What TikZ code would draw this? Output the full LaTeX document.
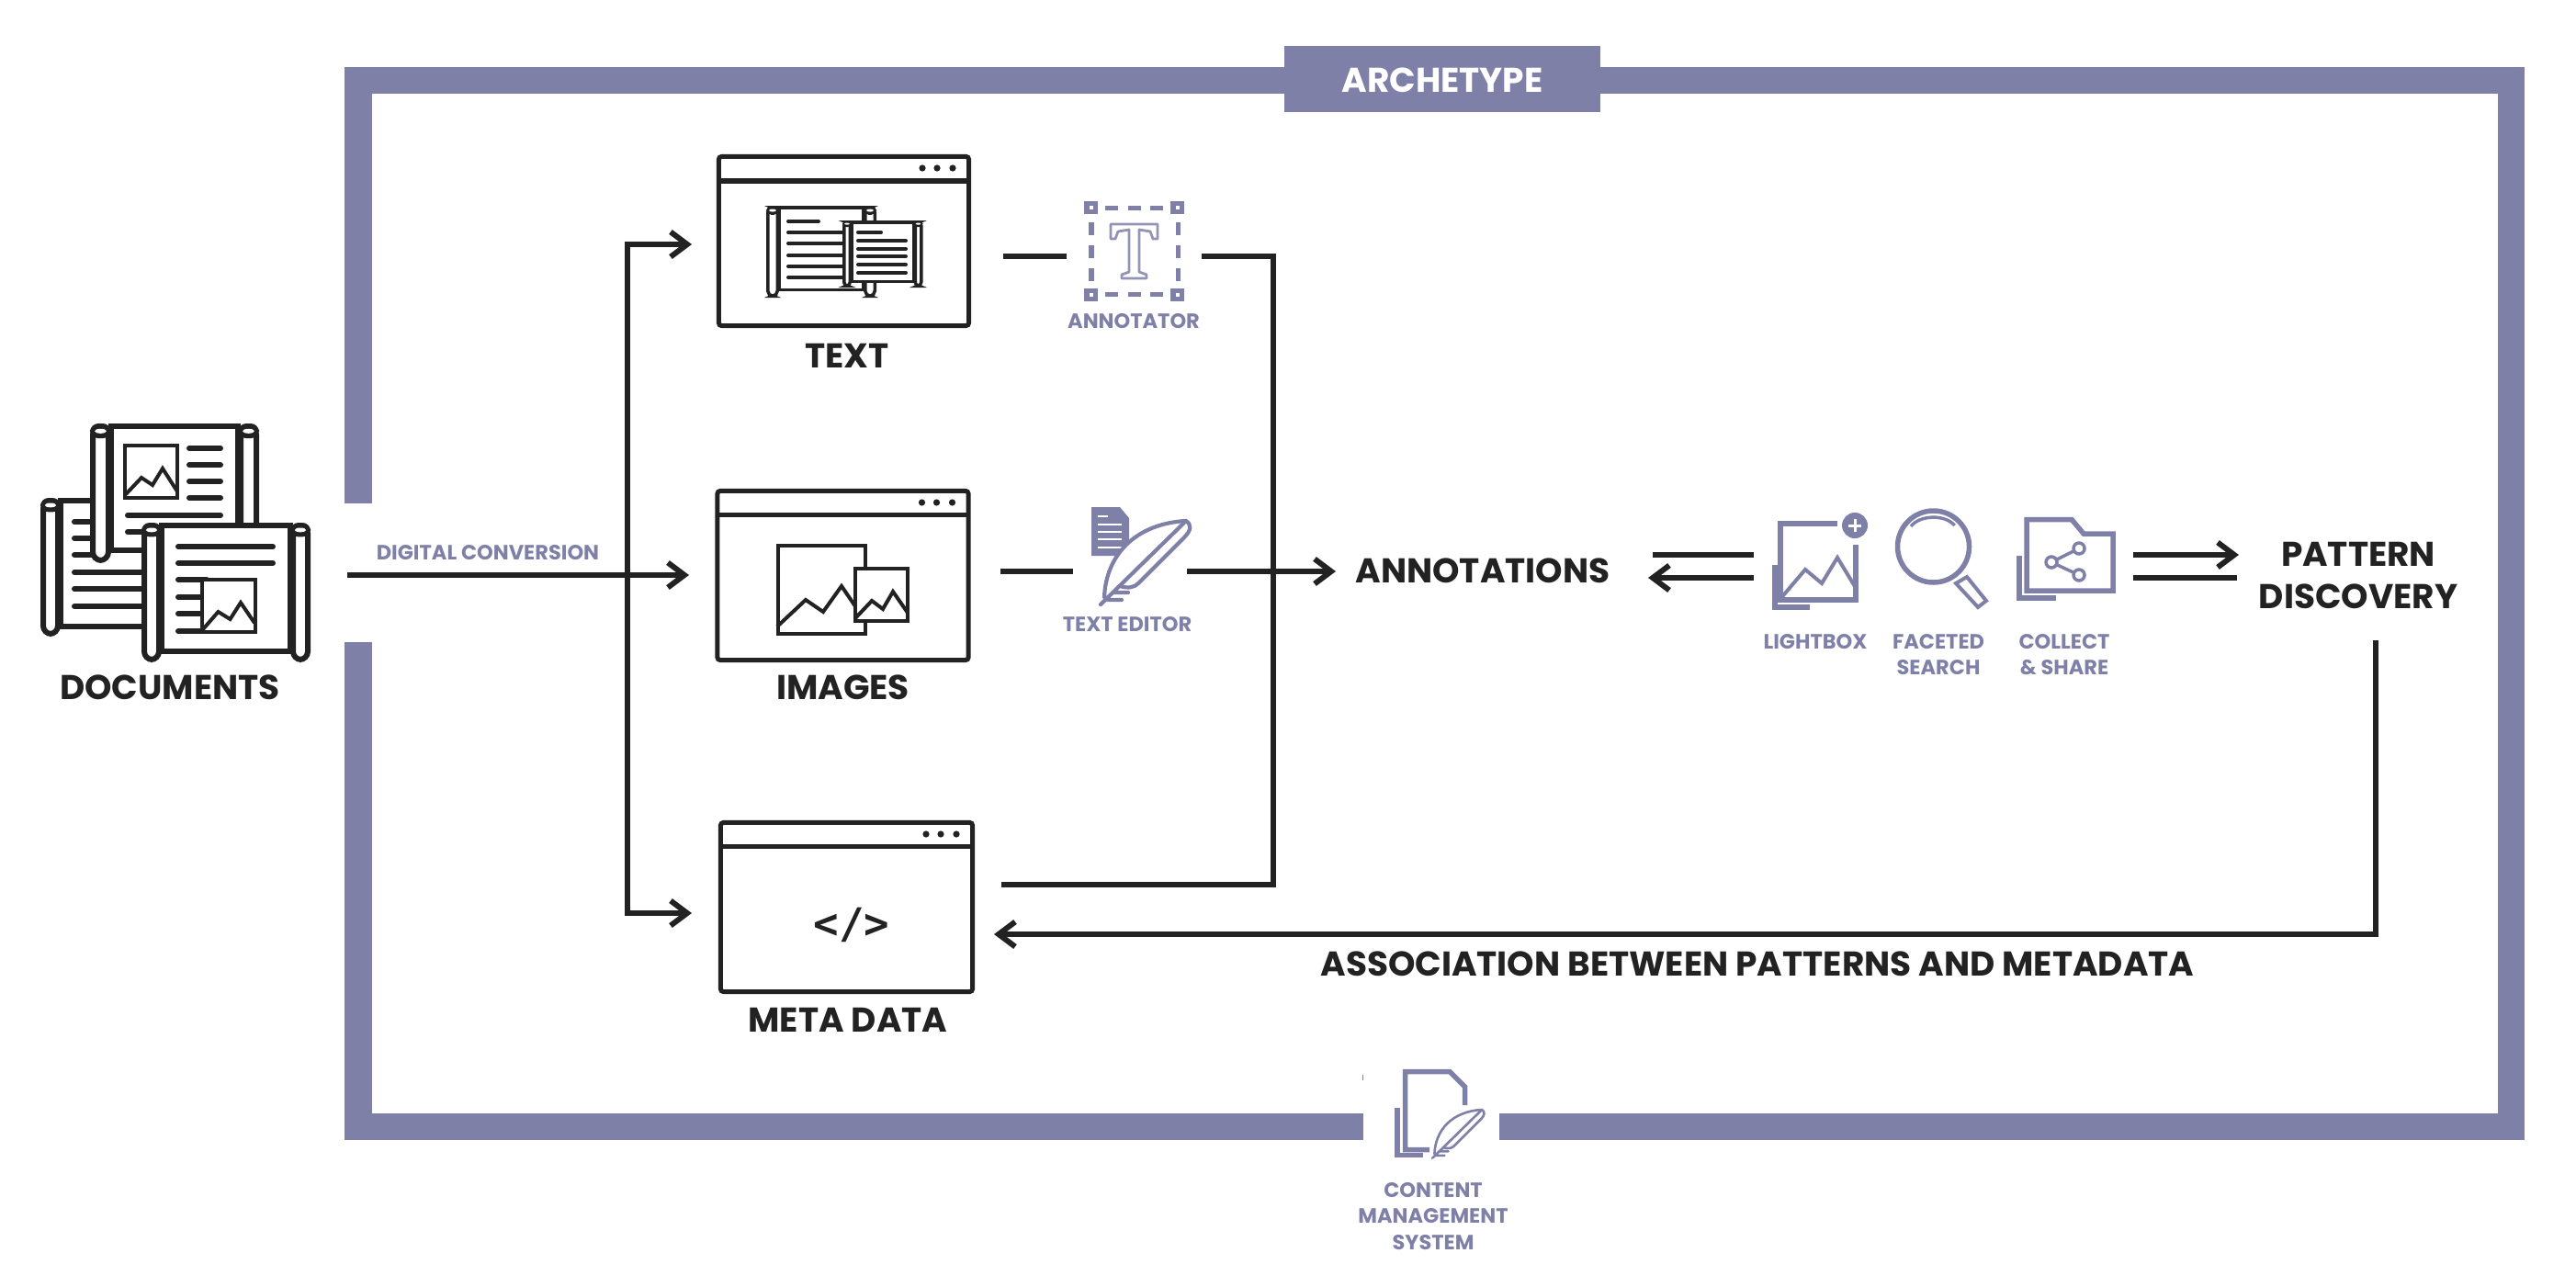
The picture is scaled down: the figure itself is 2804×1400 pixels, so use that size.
\documentclass[tikz,border=0pt]{standalone}
\usepackage{fontspec}
\setmainfont{Poppins}
\usetikzlibrary{arrows.meta}
\definecolor{inkblack}{HTML}{222222}
\definecolor{archpurple}{HTML}{7F80A8}
\tikzset{
  arrowline/.style={draw=inkblack,line width=0.06cm,>={Straight Barb[length=0.18cm,width=0.27cm]}},
  blacktxt/.style={text=inkblack,inner sep=0pt,align=center,yshift=-0.015cm,font=\fontsize{10.65}{13.1}\selectfont\bfseries},
  purpletxt/.style={text=archpurple,inner sep=0pt,align=center,yshift=-0.01cm,font=\fontsize{6.4}{8}\selectfont\bfseries},
  windowbox/.style={draw=inkblack,line width=0.05cm,rounded corners=0.03cm,fill=white},
  iconline/.style={draw=archpurple,line width=0.055cm},
  docline/.style={draw=inkblack,line width=0.04cm,line cap=round},
  picline/.style={draw=inkblack,line width=0.04cm,line join=miter}
}
\newcommand{\scrollicon}[7]{
  \filldraw[fill=white,draw=inkblack,line width=#7*0.01cm] (#1+#6,#2+#7/2) rectangle (#3-#6,#5-#7/2);
  \foreach \rx in {#1,#3-#6}{
    \filldraw[fill=white,draw=inkblack,line width=#7*0.01cm,rounded corners=#6*0.004cm] (\rx+#7/2,#2+#7/2) rectangle (\rx+#6-#7/2,#4-#7/2);
    \fill[inkblack,rounded corners=#6*0.004cm] (\rx,#2) rectangle (\rx+#6,#2+0.7*#6);
    \fill[white] (\rx+#6/2,#2+0.36*#6) ellipse ({0.28*#6} and {0.11*#6});
  }
}
\newcommand{\windowdots}[2]{
  \foreach \dx in {20,37,53}
    \fill[inkblack] (#1-\dx,#2+15) circle (3.6);
}
\newcommand{\feathericon}[1]{
  \filldraw[fill=white,draw=archpurple,line width=#1*0.01cm,line cap=round] (-89,83) .. controls (-87,36) and (-54,3) .. (0,0) .. controls (6,4) and (6,10) .. (-2,18) -- (-52,68) .. controls (-56,72) and (-62,74) .. (-72,71);
  \draw[draw=archpurple,line width=#1*0.01cm,line cap=round] (-2,2) -- (-93,91) (-80,78) -- (-63,78) (-85,86) -- (-70,86);
}
\begin{document}
\begin{tikzpicture}[x=0.01cm,y=-0.01cm]
\useasboundingbox (0,0) rectangle (2804,1400);

\draw[draw=archpurple,line width=0.29cm] (390,548) -- (390,87.5) -- (2733,87.5) -- (2733,1226.5) -- (1632,1226.5);
\draw[draw=archpurple,line width=0.29cm] (1484,1226.5) -- (390,1226.5) -- (390,699);
\node[fill=archpurple,minimum width=3.44cm,minimum height=0.72cm,inner sep=0pt] (archbox) at (1570,86) {};
\node[blacktxt,text=white] (archlabel) at (1570,86) {ARCHETYPE};

\scrollicon{44}{542}{200}{693}{685}{22}{6}
\foreach \ly in {568,586,604}
  \draw[docline,line width=0.06cm] (81,\ly) -- (110,\ly);
\foreach \ly in {623,641,660}
  \draw[docline,line width=0.06cm] (81,\ly) -- (160,\ly);
\scrollicon{98}{461}{282}{613}{602}{23}{6}
\foreach \ly in {488,506,524,542}
  \draw[docline,line width=0.06cm] (206,\ly) -- (240,\ly);
\draw[docline,line width=0.06cm] (139,561) -- (240,561);
\draw[docline,line width=0.06cm] (139,579) -- (165,579);
\draw[picline] (136,485) rectangle (193,542);
\draw[picline] (137,538) -- (154,520) -- (166,528) -- (177,510) -- (193,535);
\scrollicon{154}{569}{338}{721}{712}{22}{6}
\foreach \ly in {595,613}
  \draw[docline,line width=0.06cm] (194,\ly) -- (297,\ly);
\foreach \ly in {631,650,668,687}
  \draw[docline,line width=0.06cm] (194,\ly) -- (225,\ly);
\filldraw[picline,fill=white] (220,631) rectangle (278,688);
\draw[picline] (221,685) -- (237.5,666) -- (250.5,674) -- (262,656) -- (277,678);
\node[blacktxt] (documents) at (185,746.5) {DOCUMENTS};

\node[purpletxt] (digital) at (531,601) {DIGITAL CONVERSION};
\coordinate (docsout) at (378,626);
\coordinate (branchtop) at (683,266);
\coordinate (branchmid) at (683,626);
\coordinate (branchbot) at (683,994);
\coordinate (textin) at (753,266);
\coordinate (imagesin) at (750,626);
\coordinate (metain) at (753,994);
\draw[arrowline,->] (docsout) -- (imagesin);
\draw[arrowline,<->] (textin) -- (branchtop) -- (branchbot) -- (metain);

\node[windowbox,minimum width=2.72cm,minimum height=1.84cm] (textwin) at (918.5,262.5) {};
\draw[draw=inkblack,line width=0.05cm] (783,197) -- (1054,197);
\windowdots{1057}{168}
\scrollicon{834}{224}{954}{324}{317}{14}{3.5}
\foreach \ly in {253,265,278,290,302}
  \draw[docline] (858,\ly) -- (925,\ly);
\draw[docline] (858,241) -- (891,241);
\scrollicon{917}{240}{1004.5}{313}{308}{10}{3.5}
\foreach \ly in {262,271,279,288,297}
  \draw[docline] (934,\ly) -- (986,\ly);
\draw[docline] (934,253) -- (959,253);
\node[blacktxt] (textlabel) at (922,386) {TEXT};

\node[windowbox,minimum width=2.73cm,minimum height=1.84cm] (imageswin) at (917.5,626.5) {};
\draw[draw=inkblack,line width=0.05cm] (781,560) -- (1054,560);
\windowdots{1056.5}{532}
\draw[picline] (846.5,593.5) rectangle (941.5,689.5);
\draw[picline] (846,682) -- (877,653) -- (896,666) -- (916,638) -- (931,660);
\filldraw[picline,fill=white] (931,618.5) rectangle (987.5,675.5);
\draw[picline] (931,673) -- (949,654) -- (961,663) -- (972,644) -- (988,667);
\node[blacktxt] (imageslabel) at (917.5,746.5) {IMAGES};

\node[windowbox,minimum width=2.74cm,minimum height=1.84cm] (metawin) at (921.5,987.5) {};
\draw[draw=inkblack,line width=0.05cm] (785,921) -- (1058,921);
\windowdots{1061}{893}
\node[text=inkblack,inner sep=0pt,font=\fontsize{13}{15}\selectfont\fontspec{DejaVu Sans Mono Bold}] (codemark) at (927,1007) {</>};
\node[blacktxt] (metalabel) at (923,1108.5) {META DATA};

\fill[archpurple] (1188,552) -- (1219,552) -- (1229,564) -- (1229,605) -- (1188,605) -- cycle;
\foreach \ly in {571,579,587,596}
  \draw[draw=white,line width=0.02cm] (1194.5,\ly) -- (1220.5,\ly);
\draw[draw=white,line width=0.02cm] (1194.5,562) -- (1206,562);
\begin{scope}[shift={(1291,567)}]
\feathericon{4.2}
\end{scope}
\node[purpletxt] (texteditor) at (1227,679) {TEXT EDITOR};

\foreach \cx/\cy in {1187.5/226,1281.5/226,1187.5/320.5,1281.5/320.5}{
  \fill[archpurple] (\cx-7.5,\cy-7) rectangle (\cx+7.5,\cy+7);
  \fill[white] (\cx-2,\cy-2) rectangle (\cx+2,\cy+2);
}
\foreach \dx in {1203,1227.5,1252}{
  \fill[archpurple] (\dx,223.5) rectangle (\dx+14,229);
  \fill[archpurple] (\dx,317.5) rectangle (\dx+14,323);
}
\foreach \dy in {242,267,292}{
  \fill[archpurple] (1185,\dy) rectangle (1190.5,\dy+14);
  \fill[archpurple] (1279.5,\dy) rectangle (1285,\dy+14);
}
\filldraw[fill=white,draw=archpurple!85,line width=0.028cm,line join=round] (1209,244) -- (1260,244) -- (1260,260) -- (1255,260) -- (1252,252) -- (1240,250) -- (1240,296) -- (1248,299) -- (1248,303) -- (1221,303) -- (1221,299) -- (1229,296) -- (1229,250) -- (1217,252) -- (1214,260) -- (1209,260) -- cycle;
\node[purpletxt] (annotator) at (1234,349) {ANNOTATOR};

\coordinate (annotatorin) at (1092,279);
\coordinate (annotatorout) at (1161,279);
\coordinate (annotatorback) at (1308,279);
\coordinate (mergecorner) at (1386,279);
\coordinate (mergebot) at (1386,963);
\coordinate (metaout) at (1090,963);
\coordinate (editorin) at (1089,622);
\coordinate (editorout) at (1168,622);
\coordinate (editorback) at (1292,622);
\coordinate (annotationsin) at (1454,622);
\draw[arrowline] (annotatorin) -- (annotatorout);
\draw[arrowline] (annotatorback) -- (mergecorner) -- (mergebot) -- (metaout);
\draw[arrowline] (editorin) -- (editorout);
\draw[arrowline,->] (editorback) -- (annotationsin);
\node[blacktxt] (annotations) at (1614,620) {ANNOTATIONS};

\coordinate (toolsin) at (1799,604);
\coordinate (toolsinend) at (1909,604);
\coordinate (toolsoutend) at (1909,629);
\coordinate (toolsout) at (1794,629);
\coordinate (patternin) at (2322,604);
\coordinate (patterntip) at (2437,604);
\coordinate (patternback) at (2435,629);
\coordinate (patternbackend) at (2322,629);
\draw[arrowline] (toolsin) -- (toolsinend);
\draw[arrowline,->] (toolsoutend) -- (toolsout);
\draw[arrowline,->] (patternin) -- (patterntip);
\draw[arrowline] (patternback) -- (patternbackend);

\draw[iconline] (2000,570) -- (1938,570) -- (1938,653) -- (2020,653) -- (2020,593);
\draw[iconline] (1932,615) -- (1932,661) -- (1970,661);
\draw[iconline,line width=0.04cm,line join=miter] (1939.5,650) -- (1965,620) -- (1983,635) -- (2000,607) -- (2020,640);
\fill[archpurple] (2019,572) circle (14);
\draw[draw=white,line width=0.03cm] (2012,572) -- (2026,572) (2019,565) -- (2019,579);
\node[purpletxt] (lightbox) at (1976,697.5) {LIGHTBOX};

\draw[iconline] (2104.5,595) circle (39);
\draw[iconline,line width=0.035cm] (2080,573) .. controls (2090,560) and (2118,560) .. (2127.5,572);
\draw[iconline,line width=0.04cm,line join=miter] (2129,635) -- (2141,628) -- (2162,654) -- (2153,661) -- cycle;
\node[purpletxt] (faceted) at (2110,712) {FACETED\\SEARCH};

\draw[iconline] (2206,565.5) -- (2255,565.5) -- (2268,581) -- (2300,581) -- (2300,643) -- (2206,643) -- cycle;
\draw[iconline] (2198,605) -- (2198,651) -- (2238,651);
\draw[iconline,line width=0.035cm] (2263,597) -- (2233,612) -- (2263,626);
\foreach \sx/\sy in {2263/597,2233/612,2263/626}
  \filldraw[iconline,line width=0.035cm,fill=white] (\sx,\sy) circle (6);
\node[purpletxt] (collect) at (2247,712) {COLLECT\\\& SHARE};

\node[blacktxt] (pattern) at (2567,625) {PATTERN\\DISCOVERY};
\coordinate (patternout) at (2585.5,697);
\coordinate (returncorner) at (2585.5,1017);
\coordinate (metareturn) at (1082,1017);
\draw[arrowline,->] (patternout) -- (returncorner) -- (metareturn);
\node[blacktxt] (association) at (1913,1048) {ASSOCIATION BETWEEN PATTERNS AND METADATA};

\draw[iconline] (1594.5,1203) -- (1594.5,1183) -- (1578,1166.5) -- (1529.5,1166.5) -- (1529.5,1251.5) -- (1556,1251.5);
\draw[iconline] (1521,1206) -- (1521,1257.5) -- (1549,1257.5);
\begin{scope}[shift={(1613,1208)},scale=0.58]
\feathericon{2.6}
\end{scope}
\fill[archpurple] (1482.5,1170) rectangle (1484,1176);
\node[purpletxt] (cms) at (1560,1323) {CONTENT\\MANAGEMENT\\SYSTEM};
\end{tikzpicture}
\end{document}
